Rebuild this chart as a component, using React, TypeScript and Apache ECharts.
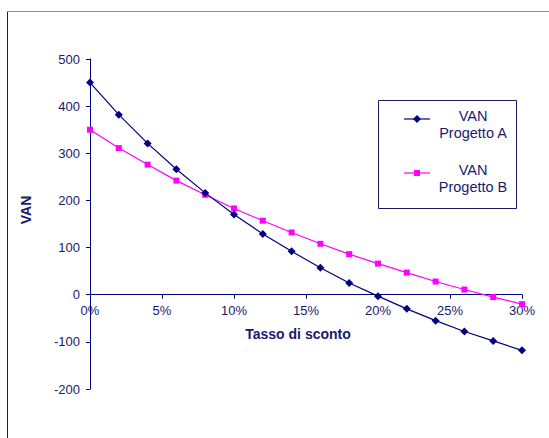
import React, { useEffect, useRef } from "react";
import * as echarts from "echarts";

const rates = [0, 0.02, 0.04, 0.06, 0.08, 0.1, 0.12, 0.14, 0.16, 0.18, 0.2, 0.22, 0.24, 0.26, 0.28, 0.3];
const vanA = [450, 382, 321, 266, 216, 170, 129, 92, 57, 25, -3, -30, -55, -78, -98, -118];
const vanB = [350, 311, 276, 242, 212, 183, 157, 132, 108, 86, 66, 47, 28, 11, -5, -20];
const seriesNames = ["VAN\nProgetto A", "VAN\nProgetto B"];
const xTitle = "Tasso di sconto";
const yTitle = "VAN";
const yMin = -200;
const yMax = 500;

const NAVY = "#000080";
const MAGENTA = "#FF00FF";
const TEXT = "#1a1a70";
const FONT = "Liberation Sans, Arial, sans-serif";

const GRID_TOP = 59;
const GRID_BOTTOM = 49;
const H = 438;

export default function App() {
  const ref = useRef<HTMLDivElement>(null);
  useEffect(() => {
    document.body.style.margin = "0";
    if (!ref.current) return;
    const chart = echarts.init(ref.current, null, { renderer: "svg" });
    const gridH = H - GRID_TOP - GRID_BOTTOM;
    // move the x axis up so it sits on the y = 0 line
    const xOffset = -((0 - yMin) / (yMax - yMin)) * gridH;
    const lx = 378, ly = 100, lw = 138, lh = 108;
    chart.setOption({
      animation: false,
      backgroundColor: "#ffffff",
      grid: { left: 90, right: 27, top: GRID_TOP, bottom: GRID_BOTTOM },
      xAxis: {
        type: "value",
        min: 0,
        max: 0.3,
        interval: 0.05,
        offset: xOffset,
        axisLine: { onZero: false, lineStyle: { color: NAVY, width: 1 } },
        axisTick: { show: true, inside: false, length: 4, lineStyle: { color: NAVY } },
        axisLabel: {
          color: TEXT,
          fontFamily: FONT,
          fontSize: 13,
          margin: 9,
          formatter: (v: number) => Math.round(v * 100) + "%",
        },
        splitLine: { show: false },
      },
      yAxis: {
        type: "value",
        min: yMin,
        max: yMax,
        interval: 100,
        axisLine: { show: true, onZero: false, lineStyle: { color: NAVY, width: 1 } },
        axisTick: { show: true, inside: false, length: 4, lineStyle: { color: NAVY } },
        axisLabel: { color: TEXT, fontFamily: FONT, fontSize: 13, margin: 10 },
        splitLine: { show: false },
      },
      series: [
        {
          name: seriesNames[0],
          type: "line",
          data: rates.map((r, i) => [r, vanA[i]]),
          symbol: "diamond",
          symbolSize: 8,
          lineStyle: { color: NAVY, width: 1.2 },
          itemStyle: { color: NAVY },
          z: 3,
        },
        {
          name: seriesNames[1],
          type: "line",
          data: rates.map((r, i) => [r, vanB[i]]),
          symbol: "rect",
          symbolSize: 6,
          lineStyle: { color: MAGENTA, width: 1.2 },
          itemStyle: { color: MAGENTA },
          z: 2,
        },
      ],
      graphic: [
        { type: "line", shape: { x1: 7.5, y1: 11, x2: 7.5, y2: 438 }, style: { stroke: "#1a1a60", lineWidth: 1 } },
        { type: "line", shape: { x1: 7, y1: 11.5, x2: 549, y2: 11.5 }, style: { stroke: "#8a8ac0", lineWidth: 1 } },
        {
          type: "text",
          x: 26,
          y: 210,
          rotation: Math.PI / 2,
          style: { text: yTitle, fill: TEXT, font: `bold 14px ${FONT}`, align: "center", verticalAlign: "middle" },
        },
        {
          type: "text",
          x: 298,
          y: 334,
          style: { text: xTitle, fill: TEXT, font: `bold 14px ${FONT}`, align: "center", verticalAlign: "middle" },
        },
        {
          type: "rect",
          shape: { x: lx + 0.5, y: ly + 0.5, width: lw, height: lh },
          style: { fill: "#ffffff", stroke: "#1a1a60", lineWidth: 1 },
          z: 10,
        },
        { type: "line", shape: { x1: 404, y1: 119, x2: 430, y2: 119 }, style: { stroke: NAVY, lineWidth: 1.2 }, z: 11 },
        {
          type: "polygon",
          shape: { points: [[417, 115], [421, 119], [417, 123], [413, 119]] },
          style: { fill: NAVY },
          z: 11,
        },
        { type: "line", shape: { x1: 404, y1: 173, x2: 430, y2: 173 }, style: { stroke: MAGENTA, lineWidth: 1.2 }, z: 11 },
        { type: "rect", shape: { x: 414, y: 170, width: 6, height: 6 }, style: { fill: MAGENTA }, z: 11 },
        {
          type: "text",
          x: 473,
          y: 124.5,
          style: { text: seriesNames[0], fill: TEXT, font: `14.5px ${FONT}`, align: "center", verticalAlign: "middle", lineHeight: 17 },
          z: 11,
        },
        {
          type: "text",
          x: 473,
          y: 178,
          style: { text: seriesNames[1], fill: TEXT, font: `14.5px ${FONT}`, align: "center", verticalAlign: "middle", lineHeight: 17 },
          z: 11,
        },
      ],
    });
    return () => chart.dispose();
  }, []);
  return <div ref={ref} style={{ width: 549, height: 438 }} />;
}
